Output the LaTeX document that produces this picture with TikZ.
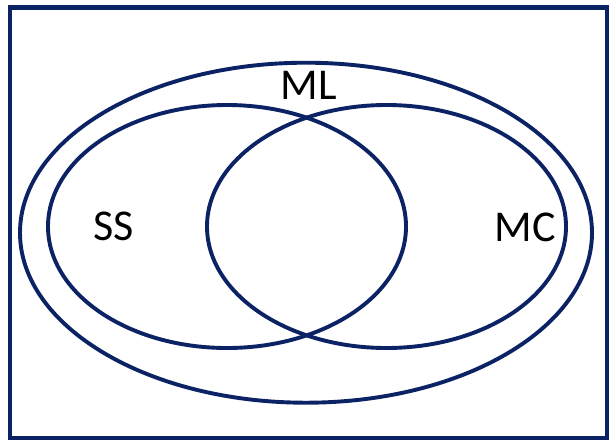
\documentclass[tikz,border=0pt]{standalone}
\usepackage{fontspec}
\setmainfont{Carlito}
\definecolor{navy}{HTML}{0B2265}
\newcommand{\biglbl}{\fontsize{44pt}{50pt}\selectfont}
\begin{document}
\begin{tikzpicture}[x=1pt,y=-1pt,
  ring/.style={draw=navy,line width=3.9pt},
  lbl/.style={inner sep=0pt,text=black}]
\useasboundingbox (0,0) rectangle (609,440);
\fill[white] (0,0) rectangle (609,440);
\draw[draw=navy,line width=4.8pt] (10,7.5) rectangle (607,438);
\draw[ring] (306,232.7) ellipse [x radius=286, y radius=170];
\draw[ring] (227,226.5) ellipse [x radius=179, y radius=121.5];
\draw[ring] (386.5,226.5) ellipse [x radius=179.5, y radius=121.5];
\node[lbl] (ml) at (309,85.5) {\biglbl ML};
\node[lbl] (ss) at (114,226) {\biglbl SS};
\node[lbl] (mc) at (525,227) {\biglbl MC};
\end{tikzpicture}
\end{document}
